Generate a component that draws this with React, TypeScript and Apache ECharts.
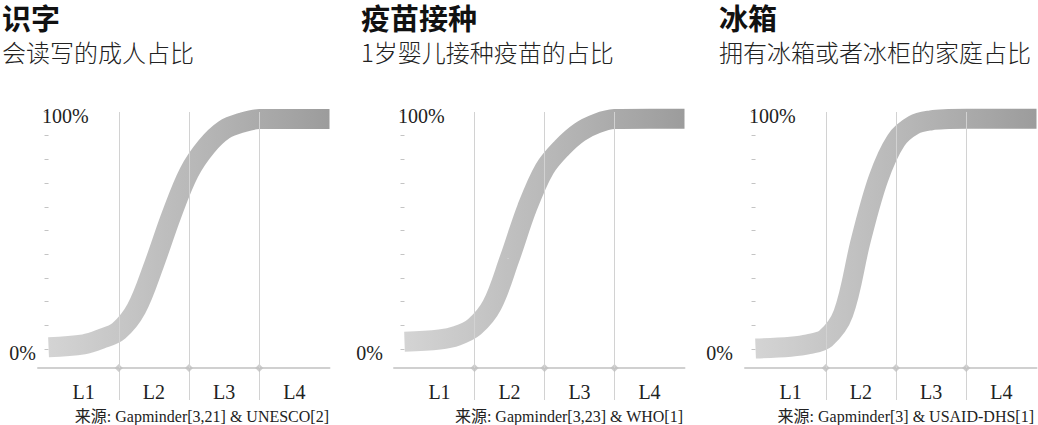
import React, { useEffect, useRef } from "react";
import * as echarts from "echarts";

// ---- data ----
const categories = ["L1", "L2", "L3", "L4"];
const stageX = [0, 0.5, 0.75, 1, 1.25, 1.5, 1.75, 2, 2.25, 2.5, 2.75, 3, 3.5, 4];
const literacy = [0.8, 2.0, 4.3, 7.7, 17, 35.5, 56.5, 74.5, 85.5, 92.5, 95.5, 97, 97, 97];
const vaccination = [3.1, 4.0, 5.6, 9.4, 18.5, 38, 59.5, 76, 85, 91.5, 95.2, 97, 97.2, 97.2];
const fridge = [0.2, 1.0, 2.0, 4.5, 15, 46, 72, 88, 94.5, 96.5, 97, 97.2, 97.2, 97.2];
const yTickValues = [0, 10, 20, 30, 40, 50, 60, 70, 80, 90, 100];
const yOuterLabels = [0];
const yInnerLabels = [100];
const levelBoundaries = [1, 2, 3];
const levelCenters = [0.5, 1.5, 2.5, 3.5];
const titles = ["识字", "疫苗接种", "冰箱"];
const subtitles = ["会读写的成人占比", "1岁婴儿接种疫苗的占比", "拥有冰箱或者冰柜的家庭占比"];
const sources = [
  "来源: Gapminder[3,21] & UNESCO[2]",
  "来源: Gapminder[3,23] & WHO[1]",
  "来源: Gapminder[3] & USAID-DHS[1]",
];
const seriesValues = [literacy, vaccination, fridge];

// ---- layout ----
const Y_MIN = -8;
const X_MIN = -0.15;
const panels = [
  { left: 38, width: 291.5, titleLeft: 2, outerMargin: 2, sourceRight: 329 },
  { left: 394, width: 290.5, titleLeft: 361, outerMargin: 11, sourceRight: 683 },
  { left: 745, width: 291.5, titleLeft: 719, outerMargin: 12, sourceRight: 1034 },
];
const SERIF = '"Liberation Serif", "Noto Sans CJK SC", serif';
const CJK = '"Noto Sans CJK SC", sans-serif';

export default function App() {
  const ref = useRef<HTMLDivElement>(null);
  useEffect(() => {
    document.body.style.margin = "0";
    const chart = echarts.init(ref.current!, undefined, { renderer: "svg" });

    const grid: any[] = [];
    const xAxis: any[] = [];
    const yAxis: any[] = [];
    const series: any[] = [];
    const graphic: any[] = [];

    panels.forEach((p, i) => {
      grid.push({ left: p.left, width: p.width, top: 112, height: 256, containLabel: false });
      xAxis.push({
        type: "value",
        gridIndex: i,
        min: X_MIN,
        max: 4,
        axisLine: { show: true, onZero: false, lineStyle: { color: "#d0d0d0", width: 2 } },
        axisTick: {
          show: true,
          customValues: levelBoundaries,
          length: 32,
          lineStyle: { color: "#d2d2d2", width: 1 },
        },
        axisLabel: {
          show: true,
          customValues: levelCenters,
          formatter: (v: number) => categories[Math.floor(v)] ?? "",
          margin: 14,
          fontFamily: SERIF,
          fontSize: 20,
          color: "#222",
        },
        splitLine: { show: false },
      });
      // outer y axis: ticks + 0% label
      yAxis.push({
        type: "value",
        gridIndex: i,
        position: "left",
        min: Y_MIN,
        max: 100,
        axisLine: { show: false },
        axisTick: {
          show: true,
          customValues: yTickValues,
          length: 4,
          lineStyle: { color: "#c4c4c4" },
        },
        axisLabel: {
          show: true,
          customValues: yOuterLabels,
          formatter: (v: number) => `${v}%`,
          margin: p.outerMargin,
          fontFamily: SERIF,
          fontSize: 20,
          color: "#222",
          verticalAlign: "top",
          lineHeight: 20,
          padding: [-6, 0, 0, 0],
        },
        splitLine: { show: false },
      });
      // inner y axis: 100% label
      yAxis.push({
        type: "value",
        gridIndex: i,
        position: "left",
        min: Y_MIN,
        max: 100,
        axisLine: { show: false },
        axisTick: { show: false },
        axisLabel: {
          show: true,
          inside: true,
          customValues: yInnerLabels,
          formatter: (v: number) => `${v}%`,
          margin: 4,
          fontFamily: SERIF,
          fontSize: 20,
          color: "#222",
          verticalAlign: "top",
          lineHeight: 20,
          padding: [-6, 0, 0, 0],
        },
        splitLine: { show: false },
      });

      // boundary diamonds + vertical lines
      series.push({
        type: "scatter",
        xAxisIndex: i,
        yAxisIndex: i * 2,
        data: levelBoundaries.map((b) => [b, Y_MIN]),
        symbol: "diamond",
        symbolSize: [8, 8],
        itemStyle: { color: "#c0c0c0" },
        clip: false,
        silent: true,
        z: 1,
        markLine: {
          silent: true,
          symbol: ["none", "none"],
          label: { show: false },
          lineStyle: { color: "#d2d2d2", width: 1, type: "solid" },
          data: levelBoundaries.map((b) => ({ xAxis: b })),
        },
      });
      // curve
      series.push({
        type: "line",
        xAxisIndex: i,
        yAxisIndex: i * 2,
        data: stageX.map((x, k) => [x, seriesValues[i][k]]),
        smooth: 0.35,
        showSymbol: false,
        symbol: "none",
        clip: false,
        z: 3,
        lineStyle: {
          width: 20,
          cap: "butt",
          color: new echarts.graphic.LinearGradient(0, 0, 1, 0, [
            { offset: 0, color: "#d4d4d4" },
            { offset: 0.5, color: "#b9b9b9" },
            { offset: 1, color: "#9c9c9c" },
          ]),
        },
      });

      graphic.push({
        type: "text",
        x: p.titleLeft,
        y: 17,
        silent: true,
        style: {
          text: titles[i],
          align: "left",
          verticalAlign: "middle",
          font: `bold 29px ${CJK}`,
          lineHeight: 29,
          fill: "#111",
        },
      });
      graphic.push({
        type: "text",
        x: p.titleLeft,
        y: 51,
        silent: true,
        style: {
          text: subtitles[i],
          align: "left",
          verticalAlign: "middle",
          font: `300 24px ${CJK}`,
          lineHeight: 24,
          fill: "#222",
        },
      });
      graphic.push({
        type: "text",
        x: p.sourceRight,
        y: 416,
        silent: true,
        style: {
          text: sources[i],
          align: "right",
          verticalAlign: "middle",
          font: `16px ${SERIF}`,
          fill: "#222",
        },
      });
    });

    chart.setOption({
      animation: false,
      backgroundColor: "#ffffff",
      grid,
      xAxis,
      yAxis,
      series,
      graphic,
    });
    return () => chart.dispose();
  }, []);
  return (
    <div
      ref={ref}
      style={{ position: "absolute", left: 0, top: 0, width: 1038, height: 425 }}
    />
  );
}
